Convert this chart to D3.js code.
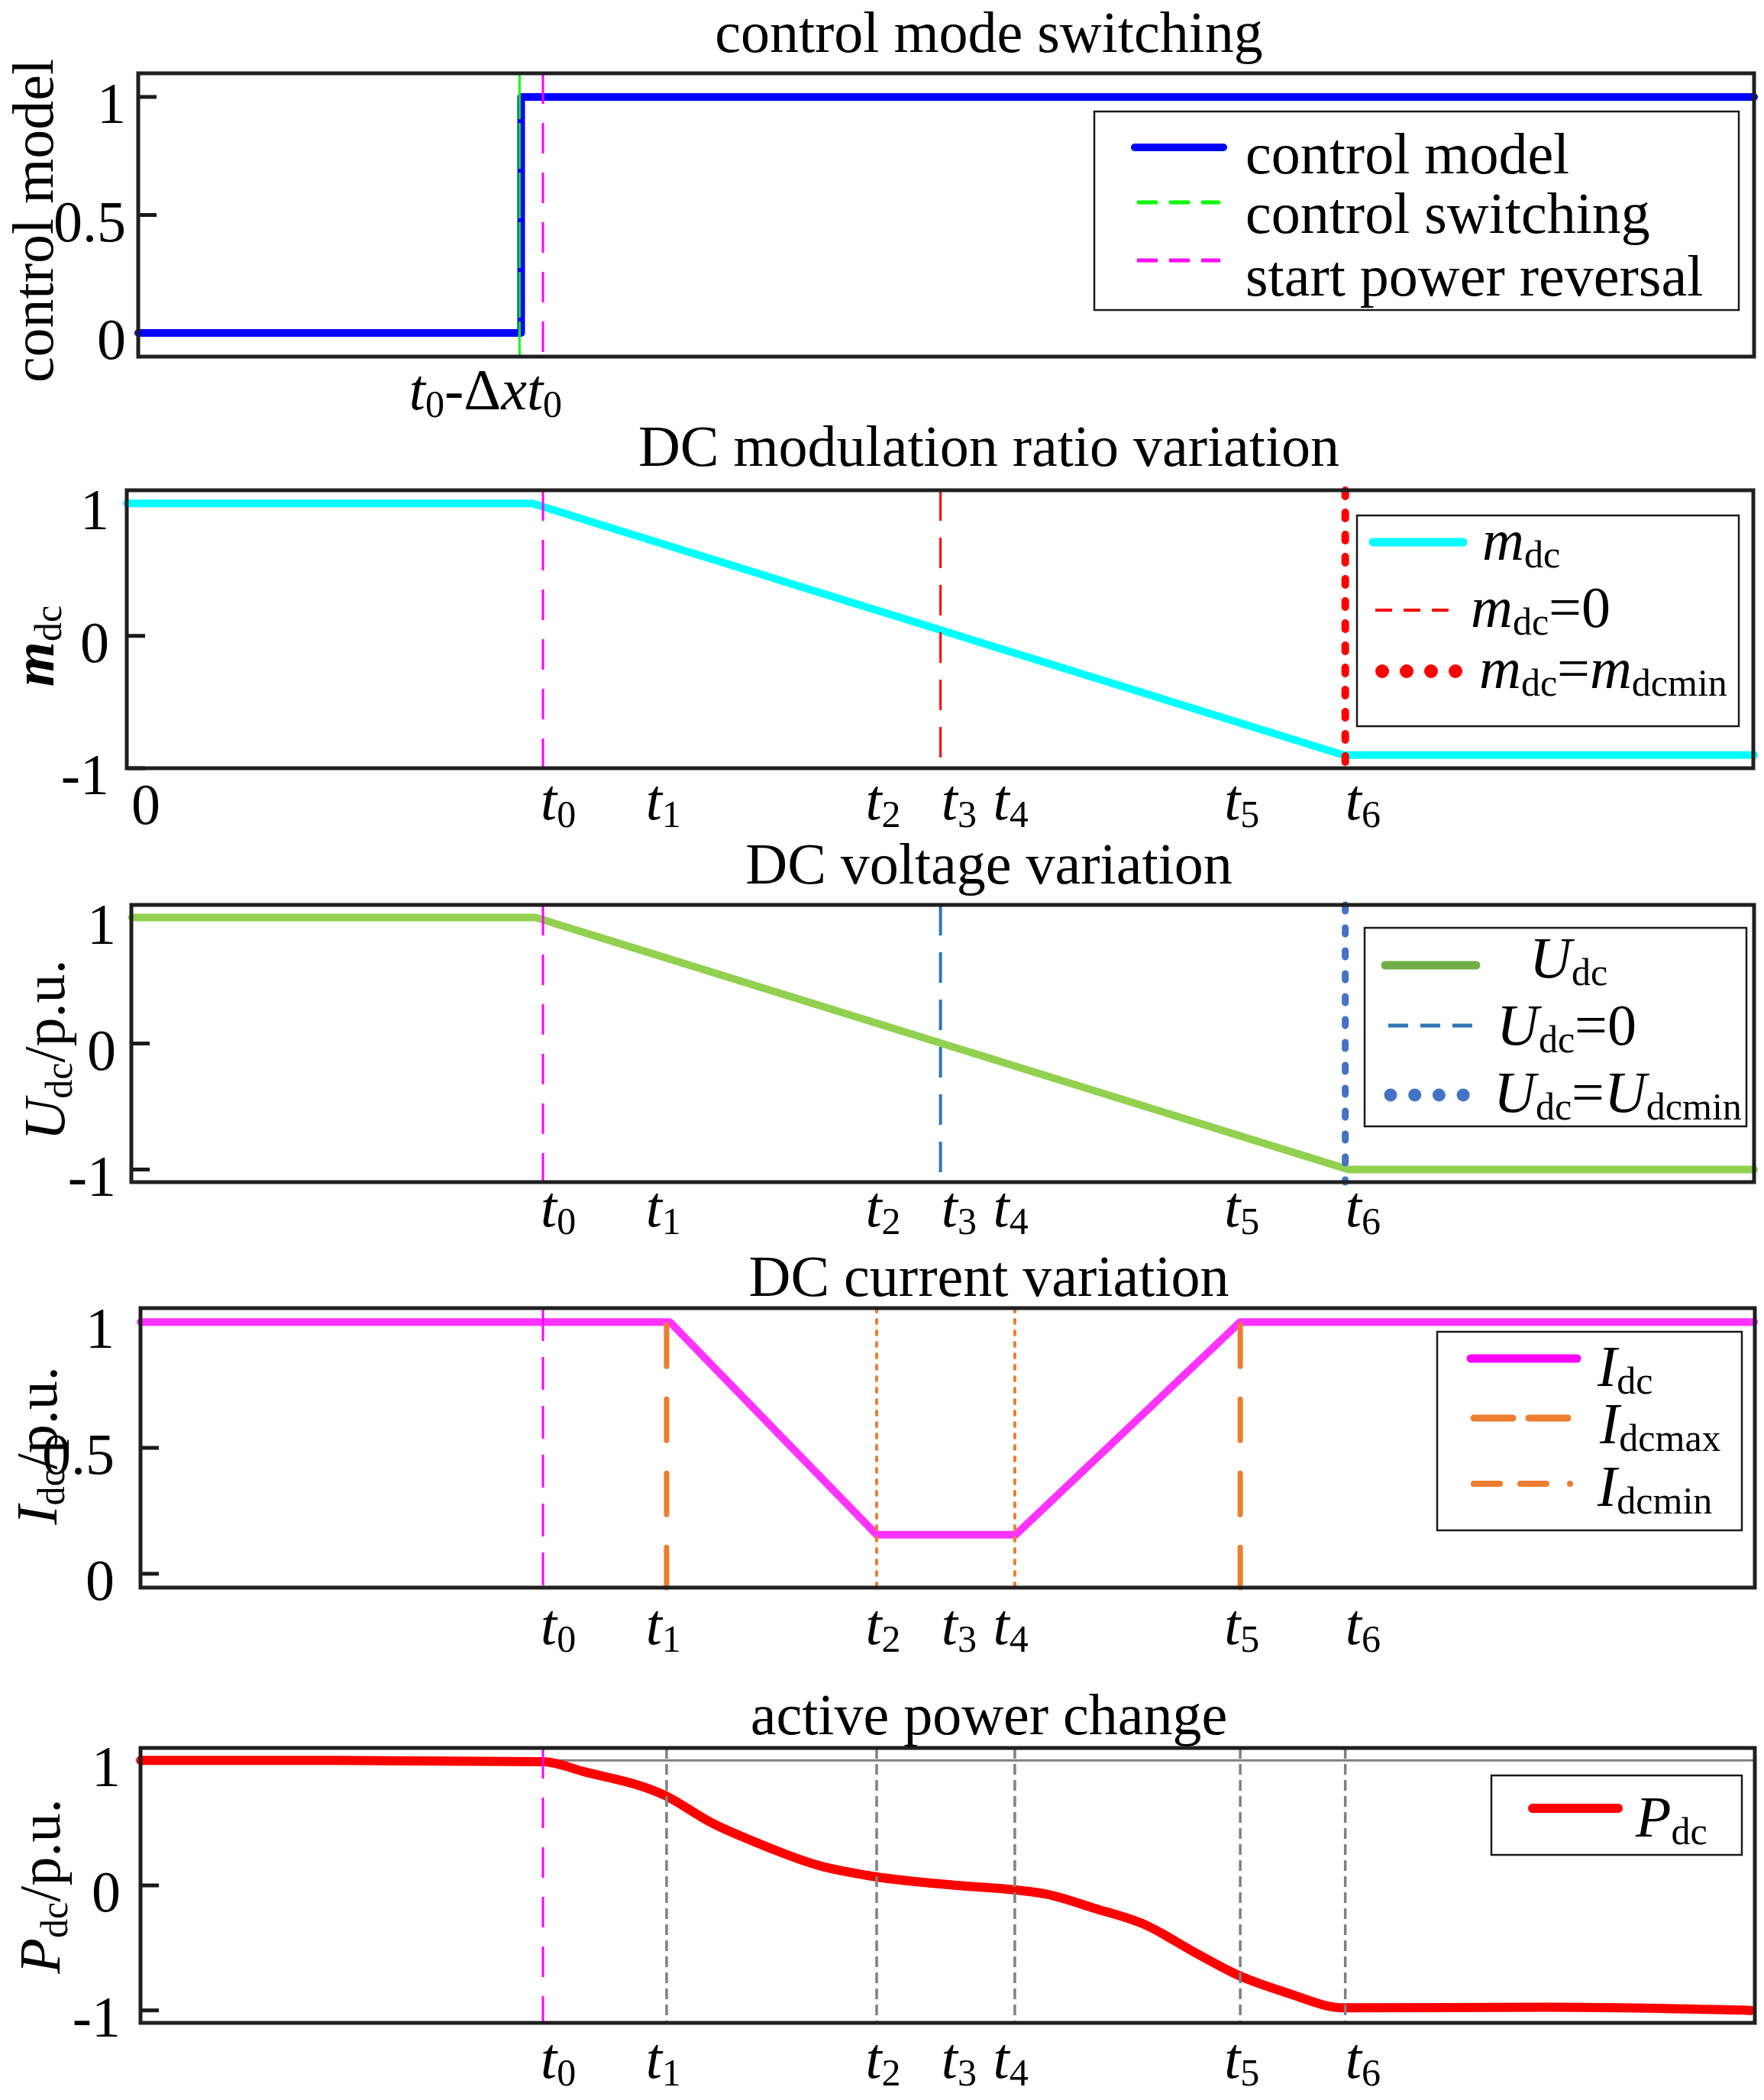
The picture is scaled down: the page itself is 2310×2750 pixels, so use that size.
<!DOCTYPE html>
<html><head><meta charset="utf-8">
<script src="https://cdn.jsdelivr.net/npm/d3@7"></script>
<style>
body{margin:0;background:#fff}
svg{display:block;background:#fff}
text{font-family:"Liberation Serif","Times New Roman",serif;fill:#000}
</style>
</head><body>
<svg id="c" width="2310" height="2750"></svg>
<script>
// ---------------- DATA ----------------
const eventNames = ["t0","t1","t2","t3","t4","t5","t6"];
const eventTimes = [25.05, 32.7, 45.7, 49.65, 54.25, 68.2, 74.7];
const tickLabelTimes = [26.0, 32.5, 46.1, 50.8, 54.0, 68.3, 75.8];
const switchTime = 23.6;

// panel 1: control mode
const modeTime  = [0, 23.7, 23.7, 100];
const modeValue = [0, 0, 1, 1];
const modeYTicks = [0, 0.5, 1];
const modeYTickText = ["0", "0.5", "1"];

// panel 2: DC modulation ratio
const mdcTime  = [-0.7, 24.4, 74.6, 100];
const mdcValue = [1, 1, -0.9, -0.9];
const mdcYTicks = [-1, 0, 1];
const mdcYTickText = ["-1", "0", "1"];

// panel 3: DC voltage
const udcTime  = [-0.4, 24.6, 74.9, 100];
const udcValue = [1, 1, -1, -1];
const udcYTicks = [-1, 0, 1];
const udcYTickText = ["-1", "0", "1"];

// panel 4: DC current
const idcTime  = [0.15, 32.9, 45.7, 54.3, 68.2, 100];
const idcValue = [1, 1, 0.155, 0.155, 1, 1];
const idcYTicks = [0, 0.5, 1];
const idcYTickText = ["0", "0.5", "1"];

// panel 5: active power
const pdcTime  = [0.15, 12, 25.05, 27.6, 32.6, 35.5, 38.5, 42.1, 45.6, 50.7, 54.2, 56.2, 59.1, 62.4, 65.3, 68.1, 71.1, 74.6, 87.2, 99.8];
const pdcValue = [1.0, 1.0, 0.99, 0.91, 0.72, 0.50, 0.33, 0.16, 0.07, 0.0, -0.035, -0.07, -0.18, -0.32, -0.53, -0.72, -0.86, -0.98, -0.975, -1.0];
const pdcYTicks = [-1, 0, 1];
const pdcYTickText = ["-1", "0", "1"];

// ---------------- SETUP ----------------
const FS = 76, SFS = 50, SUBDY = 10;
const TITLE_X = 1295;
const svg = d3.select("#c");
const xs = d3.scaleLinear().domain([0, 100]).range([181, 2297]);

function rich(sel, parts) {
  let cur = 0;
  parts.forEach(p => {
    const ts = sel.append("tspan").text(p.t);
    if (p.i) ts.attr("font-style", "italic");
    if (p.b) ts.attr("font-weight", "bold");
    const target = p.s ? SUBDY : 0;
    if (p.s) ts.attr("font-size", SFS);
    if (target !== cur) ts.attr("dy", target - cur);
    cur = target;
  });
  return sel;
}
const tLabel = k => [{t:"t", i:1}, {t:String(k), s:1}];

const panels = [
  { box:[181,96,2297,467], ydom:[-0.1,1.1], yt:modeYTicks, ytt:modeYTickText, gap:16,
    title:"control mode switching", titleY:68,
    ylabel:[{t:"control model"}], ylx:69, lyy:289,
    series:{time:modeTime, value:modeValue, color:"#0000ff", width:10},
    xlabOff:69 },
  { box:[166,642,2296,1006], ydom:[-1,1.1], yt:mdcYTicks, ytt:mdcYTickText, gap:23,
    title:"DC modulation ratio variation", titleY:610,
    ylabel:[{t:"m", i:1, b:1},{t:"dc", s:1}], ylx:70, lyy:846,
    series:{time:mdcTime, value:mdcValue, color:"#00ffff", width:10},
    xlabOff:67 },
  { box:[172,1185,2297,1548], ydom:[-1.1,1.1], yt:udcYTicks, ytt:udcYTickText, gap:20,
    title:"DC voltage variation", titleY:1157,
    ylabel:[{t:"U", i:1},{t:"dc", s:1},{t:"/p.u."}], ylx:84, lyy:1375,
    series:{time:udcTime, value:udcValue, color:"#92d050", width:10},
    xlabOff:58 },
  { box:[184,1713,2298,2079], ydom:[-0.055,1.055], yt:idcYTicks, ytt:idcYTickText, gap:34,
    title:"DC current variation", titleY:1697,
    ylabel:[{t:"I", i:1},{t:"dc", s:1},{t:"/p.u."}], ylx:74, lyy:1893,
    series:{time:idcTime, value:idcValue, color:"#ff33ff", width:10},
    xlabOff:74 },
  { box:[184,2289,2298,2649], ydom:[-1.1,1.1], yt:pdcYTicks, ytt:pdcYTickText, gap:26,
    title:"active power change", titleY:2271,
    ylabel:[{t:"P", i:1},{t:"dc", s:1},{t:"/p.u."}], ylx:78, lyy:2470,
    series:{time:pdcTime, value:pdcValue, color:"#ff0000", width:12, curve:d3.curveMonotoneX},
    xlabOff:72 }
];

// vertical / reference lines per panel
const MAG = {color:"#ff00ff", width:3, dash:"40,25"};
const vlines = [
  [ {t:eventTimes[0], ...MAG}, {t:switchTime, color:"#00ff00", width:3, dash:"60,5"} ],
  [ {t:eventTimes[0], ...MAG},
    {t:eventTimes[3], color:"#ff0000", width:3, dash:"40,22"},
    {t:eventTimes[6], color:"#ff0000", width:10, dash:"8,21", cap:"round"} ],
  [ {t:eventTimes[0], ...MAG},
    {t:eventTimes[3], color:"#2e75b6", width:4, dash:"40,22"},
    {t:eventTimes[6], color:"#4472c4", width:9, dash:"8,22", cap:"round"} ],
  [ {t:eventTimes[0], ...MAG, dash:"43,21"},
    {t:eventTimes[1], color:"#ed7d31", width:7, dash:"54,43", cap:"round", top:1},
    {t:eventTimes[5], color:"#ed7d31", width:7, dash:"54,43", cap:"round", top:1},
    {t:eventTimes[2], color:"#ed7d31", width:4, dash:"5,10", cap:"round"},
    {t:eventTimes[4], color:"#ed7d31", width:4, dash:"5,10", cap:"round"} ],
  [ {t:eventTimes[1], color:"#808080", width:3.5, dash:"14,7"},
    {t:eventTimes[2], color:"#808080", width:3.5, dash:"14,7"},
    {t:eventTimes[4], color:"#808080", width:3.5, dash:"14,7"},
    {t:eventTimes[5], color:"#808080", width:3.5, dash:"14,7"},
    {t:eventTimes[6], color:"#808080", width:3.5, dash:"14,7"},
    {t:eventTimes[0], ...MAG} ]
];

// legends (layout)
const legends = [
  { box:[1433,146,2277,406], items:[
    {x1:1486,x2:1602,y:193, color:"#0000ff", width:10, cap:"round", tx:1631, ty:227, parts:[{t:"control model"}]},
    {x1:1489,x2:1598,y:265, color:"#00ff00", width:5, dash:"27,15", tx:1631, ty:305, parts:[{t:"control switching"}]},
    {x1:1489,x2:1598,y:341, color:"#ff00ff", width:5, dash:"27,15", tx:1631, ty:387, parts:[{t:"start power reversal"}]} ]},
  { box:[1777,675,2277,951], items:[
    {x1:1798,x2:1916,y:710, color:"#00ffff", width:11, cap:"round", tx:1941, ty:733, parts:[{t:"m",i:1},{t:"dc",s:1}]},
    {x1:1801,x2:1910,y:799, color:"#ff0000", width:4, dash:"22,15", tx:1926, ty:821, parts:[{t:"m",i:1},{t:"dc",s:1},{t:"=0"}]},
    {x1:1810,x2:1907,y:879, color:"#ff0000", width:18, dash:"0,32", cap:"round", tx:1937, ty:901, parts:[{t:"m",i:1},{t:"dc",s:1},{t:"="},{t:"m",i:1},{t:"dcmin",s:1}]} ]},
  { box:[1787,1215,2287,1475], items:[
    {x1:1814,x2:1933,y:1264, color:"#70ad47", width:11, cap:"round", tx:2003, ty:1280, parts:[{t:"U",i:1},{t:"dc",s:1}]},
    {x1:1818,x2:1929,y:1343, color:"#2e75b6", width:5, dash:"26,16", tx:1960, ty:1368, parts:[{t:"U",i:1},{t:"dc",s:1},{t:"=0"}]},
    {x1:1821,x2:1917,y:1434, color:"#4472c4", width:17, dash:"0,31.7", cap:"round", tx:1956, ty:1456, parts:[{t:"U",i:1},{t:"dc",s:1},{t:"="},{t:"U",i:1},{t:"dcmin",s:1}]} ]},
  { box:[1882,1744,2281,2004], items:[
    {x1:1926,x2:2065,y:1779, color:"#ff00ff", width:11, cap:"round", tx:2092, ty:1815, parts:[{t:"I",i:1},{t:"dc",s:1}]},
    {x1:1930,x2:2064,y:1857, color:"#ed7d31", width:9, dash:"51,21", cap:"round", tx:2095, ty:1890, parts:[{t:"I",i:1},{t:"dcmax",s:1}]},
    {x1:1930,x2:2057,y:1943, color:"#ed7d31", width:8, dash:"34,27,34,31,0,100", cap:"round", tx:2092, ty:1972, parts:[{t:"I",i:1},{t:"dcmin",s:1}]} ]},
  { box:[1953,2325,2281,2429], items:[
    {x1:2007,x2:2119,y:2368, color:"#ff0000", width:12, cap:"round", tx:2142, ty:2405, parts:[{t:"P",i:1},{t:"dc",s:1}]} ]}
];

// ---------------- DRAW ----------------
panels.forEach((p, pi) => {
  const [L, T, R, B] = p.box;
  const ys = d3.scaleLinear().domain(p.ydom).range([B, T]);
  const g = svg.append("g");

  // title
  g.append("text").attr("x", TITLE_X).attr("y", p.titleY).attr("text-anchor", "middle")
    .attr("font-size", FS).text(p.title);

  // y label
  rich(g.append("text").attr("transform", `translate(${p.ylx},${p.lyy}) rotate(-90)`)
    .attr("text-anchor", "middle").attr("font-size", FS), p.ylabel);

  // y tick labels + marks
  p.yt.forEach((v, k) => {
    g.append("text").attr("x", L - p.gap).attr("y", ys(v) + 34).attr("text-anchor", "end")
      .attr("font-size", FS).text(p.ytt[k]);
    g.append("line").attr("x1", L).attr("x2", L + 24).attr("y1", ys(v)).attr("y2", ys(v))
      .attr("stroke", "#1a1a1a").attr("stroke-width", 5);
  });

  // x tick labels
  if (pi === 0) {
    rich(g.append("text").attr("x", xs(21.5)).attr("y", B + p.xlabOff).attr("text-anchor", "middle")
      .attr("font-size", FS),
      [{t:"t",i:1},{t:"0",s:1},{t:"-Δ"},{t:"x",i:1},{t:"t",i:1},{t:"0",s:1}]);
  } else {
    if (pi === 1) {
      g.append("text").attr("x", xs(0.47)).attr("y", B + 73).attr("text-anchor", "middle")
        .attr("font-size", FS).text("0");
    }
    tickLabelTimes.forEach((t, k) => {
      rich(g.append("text").attr("x", xs(t)).attr("y", B + p.xlabOff).attr("text-anchor", "middle")
        .attr("font-size", FS), tLabel(k));
    });
  }

  // panel 5 reference level
  if (pi === 4) {
    g.append("line").attr("x1", xs(eventTimes[0])).attr("x2", R).attr("y1", ys(1)).attr("y2", ys(1))
      .attr("stroke", "#808080").attr("stroke-width", 3);
  }

  // data series
  const s = p.series;
  const line = d3.line().x(d => xs(d[0])).y(d => ys(d[1])).curve(s.curve || d3.curveLinear);
  g.append("path").attr("d", line(d3.zip(s.time, s.value)))
    .attr("fill", "none").attr("stroke", s.color).attr("stroke-width", s.width)
    .attr("stroke-linejoin", "round").attr("stroke-linecap", "round");

  // vertical marker lines
  vlines[pi].forEach(v => {
    g.append("line").attr("x1", xs(v.t)).attr("x2", xs(v.t))
      .attr("y1", v.top ? ys(1) + 4 : T).attr("y2", B)
      .attr("stroke", v.color).attr("stroke-width", v.width)
      .attr("stroke-dasharray", v.dash || null).attr("stroke-linecap", v.cap || "butt");
  });

  // frame
  g.append("rect").attr("x", L).attr("y", T).attr("width", R - L).attr("height", B - T)
    .attr("fill", "none").attr("stroke", "#1f1f1f").attr("stroke-width", 5);

  // legend
  const lg = legends[pi];
  const [lx1, ly1, lx2, ly2] = lg.box;
  g.append("rect").attr("x", lx1).attr("y", ly1).attr("width", lx2 - lx1).attr("height", ly2 - ly1)
    .attr("fill", "#fff").attr("stroke", "#1a1a1a").attr("stroke-width", 2.5);
  lg.items.forEach(it => {
    g.append("line").attr("x1", it.x1).attr("x2", it.x2).attr("y1", it.y).attr("y2", it.y)
      .attr("stroke", it.color).attr("stroke-width", it.width)
      .attr("stroke-dasharray", it.dash || null).attr("stroke-linecap", it.cap || "butt");
    rich(g.append("text").attr("x", it.tx).attr("y", it.ty).attr("font-size", FS), it.parts);
  });
});
</script>
</body></html>
